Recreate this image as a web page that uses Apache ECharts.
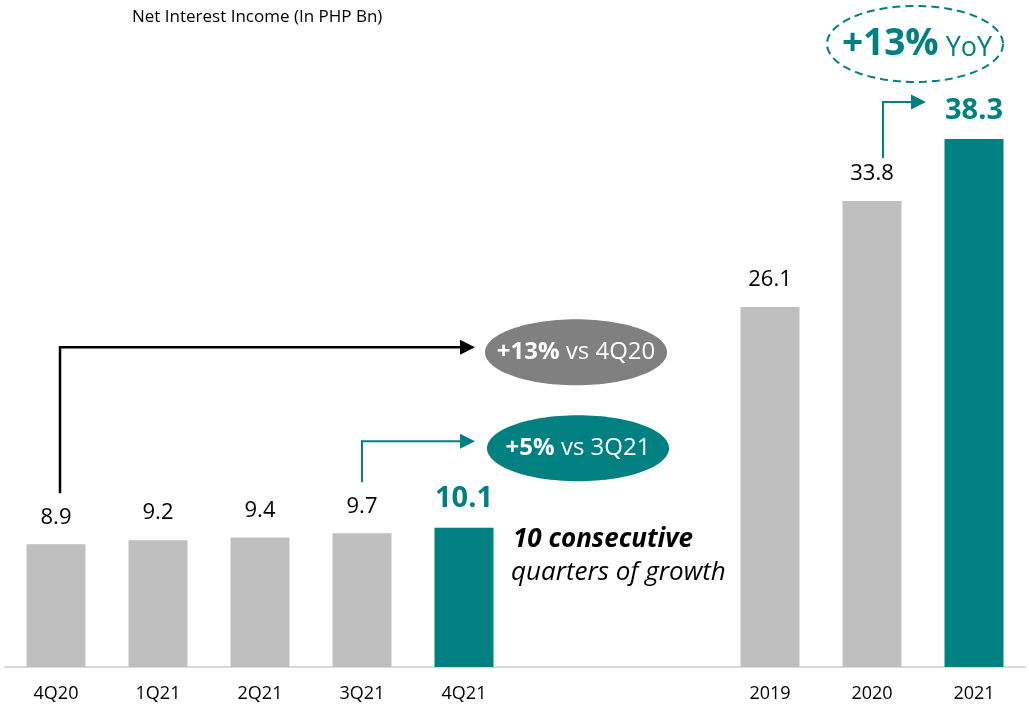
<!DOCTYPE html>
<html>
<head>
<meta charset="utf-8">
<script src="https://cdn.jsdelivr.net/npm/echarts@6/dist/echarts.min.js"></script>
<style>
html,body{margin:0;padding:0;background:#fff;}
#main{width:1029px;height:714px;}
</style>
</head>
<body>
<div id="main"></div>
<script>
// ---- data ----
const categories = ['4Q20', '1Q21', '2Q21', '3Q21', '4Q21', ' ', '  ', '2019', '2020', '2021'];
const values = [8.9, 9.2, 9.4, 9.7, 10.1, null, null, 26.1, 33.8, 38.3];
const highlighted = [false, false, false, false, true, false, false, false, false, true];
const titleText = 'Net Interest Income (In PHP Bn)';
const badgeVs4Q20 = ['+13%', ' vs 4Q20'];
const badgeVs3Q21 = ['+5%', ' vs 3Q21'];
const badgeYoY = ['+13%', ' YoY'];
const noteLines = ['10 consecutive', 'quarters of growth'];

const TEAL = '#008080';
const GRAY = '#bfbfbf';
const FONT = '"Open Sans", "Noto Sans", sans-serif';

const chart = echarts.init(document.getElementById('main'));

const seriesData = values.map((v, i) => {
  if (v === null) return null;
  const item = { value: v, itemStyle: { color: highlighted[i] ? TEAL : GRAY } };
  if (highlighted[i]) {
    item.label = { color: TEAL, fontWeight: 'bold', fontSize: 29, distance: 14 };
  }
  return item;
});

const option = {
  animation: false,
  backgroundColor: '#fff',
  textStyle: { fontFamily: FONT },
  title: {
    text: titleText,
    left: 127, top: 4,
    textStyle: { fontFamily: FONT, fontSize: 17, fontWeight: 'normal', color: '#000' }
  },
  grid: { left: 5, right: 4, top: 46.5, bottom: 47 },
  xAxis: {
    type: 'category',
    data: categories,
    axisLine: { lineStyle: { color: '#d9d9d9', width: 2 } },
    axisTick: { show: false },
    axisLabel: { color: '#000', fontSize: 18, margin: 18, fontFamily: FONT, interval: 0 }
  },
  yAxis: {
    type: 'value', min: 0, max: 45,
    show: false,
    splitLine: { show: false }
  },
  series: [{
    type: 'bar',
    data: seriesData,
    barWidth: 59,
    label: {
      show: true, position: 'top', distance: 16,
      color: '#000', fontSize: 22, fontFamily: FONT,
      formatter: p => p.value.toFixed(1)
    }
  }]
};
chart.setOption(option);

function px(i, v) { return chart.convertToPixel({ xAxisIndex: 0, yAxisIndex: 0 }, [i, v]); }

function arrow(x0, y0, yTop, xTip, color, w) {
  return [
    { type: 'polyline', shape: { points: [[x0, y0], [x0, yTop], [xTip - 12, yTop]] },
      style: { stroke: color, lineWidth: w, fill: null }, z: 10 },
    { type: 'polygon', shape: { points: [[xTip, yTop], [xTip - 15, yTop - 7.5], [xTip - 15, yTop + 7.5]] },
      style: { fill: color }, z: 10 }
  ];
}
function ellipsePts(cx, cy, rx, ry) {
  const pts = [];
  for (let k = 0; k < 120; k++) {
    const a = k / 120 * Math.PI * 2;
    pts.push([cx + rx * Math.cos(a), cy + ry * Math.sin(a)]);
  }
  return pts;
}

const p0 = px(0, values[0]);
const p3 = px(3, values[3]);
const p4 = px(4, values[4]);
const p8 = px(8, values[8]);

const tipX = p4[0] + 11;
const elements = [];
// black arrow from 4Q20
elements.push(...arrow(p0[0] + 4, p0[1] - 51, p0[1] - 197, tipX, '#000', 2.5));
// teal arrow from 3Q21
elements.push(...arrow(p3[0], p3[1] - 51, p3[1] - 92, tipX, TEAL, 2));
// teal arrow from 2020
elements.push(...arrow(p8[0] + 11, p8[1] - 43, p8[1] - 99, p8[0] + 54, TEAL, 2));

// gray badge
const g1 = [tipX + 101, p0[1] - 192];
elements.push({ type: 'polygon', shape: { points: ellipsePts(g1[0], g1[1], 91, 33) }, style: { fill: '#808080' }, z: 10 });
elements.push({ type: 'text', x: g1[0], y: g1[1], z: 11,
  style: { text: '{b|' + badgeVs4Q20[0] + '}{n|' + badgeVs4Q20[1] + '}', align: 'center', verticalAlign: 'middle',
    rich: { b: { fill: '#fff', fontWeight: 'bold', fontSize: 24, fontFamily: FONT },
            n: { fill: '#fff', fontSize: 24, fontFamily: FONT } } } });
// teal badge
const g2 = [tipX + 103, p3[1] - 85];
elements.push({ type: 'polygon', shape: { points: ellipsePts(g2[0], g2[1], 91, 33) }, style: { fill: TEAL }, z: 10 });
elements.push({ type: 'text', x: g2[0], y: g2[1], z: 11,
  style: { text: '{b|' + badgeVs3Q21[0] + '}{n|' + badgeVs3Q21[1] + '}', align: 'center', verticalAlign: 'middle',
    rich: { b: { fill: '#fff', fontWeight: 'bold', fontSize: 24, fontFamily: FONT },
            n: { fill: '#fff', fontSize: 24, fontFamily: FONT } } } });
// dashed YoY badge
const g3 = [p8[0] + 43, p8[1] - 157];
elements.push({ type: 'polygon', shape: { points: ellipsePts(g3[0], g3[1], 88, 38) },
  style: { fill: null, stroke: TEAL, lineWidth: 2, lineDash: [8, 5] }, z: 10 });
elements.push({ type: 'text', x: g3[0] + 2, y: g3[1] + 1, z: 11,
  style: { text: '{b|' + badgeYoY[0] + '}{n|' + badgeYoY[1] + '}', align: 'center', verticalAlign: 'middle',
    rich: { b: { fill: TEAL, fontWeight: 'bold', fontSize: 37, fontFamily: FONT },
            n: { fill: TEAL, fontSize: 27, fontFamily: FONT, padding: [7, 0, 0, 0] } } } });
// note
elements.push({ type: 'text', x: p4[0] + 49, y: p4[1] + 12, z: 11,
  style: { text: noteLines[0], fill: '#000', fontSize: 26, fontWeight: 'bold', fontStyle: 'italic', fontFamily: FONT, verticalAlign: 'middle' } });
elements.push({ type: 'text', x: p4[0] + 47, y: p4[1] + 45, z: 11,
  style: { text: noteLines[1], fill: '#000', fontSize: 26, fontStyle: 'italic', fontFamily: FONT, verticalAlign: 'middle' } });

chart.setOption({ graphic: { elements: elements } });
</script>
</body>
</html>
